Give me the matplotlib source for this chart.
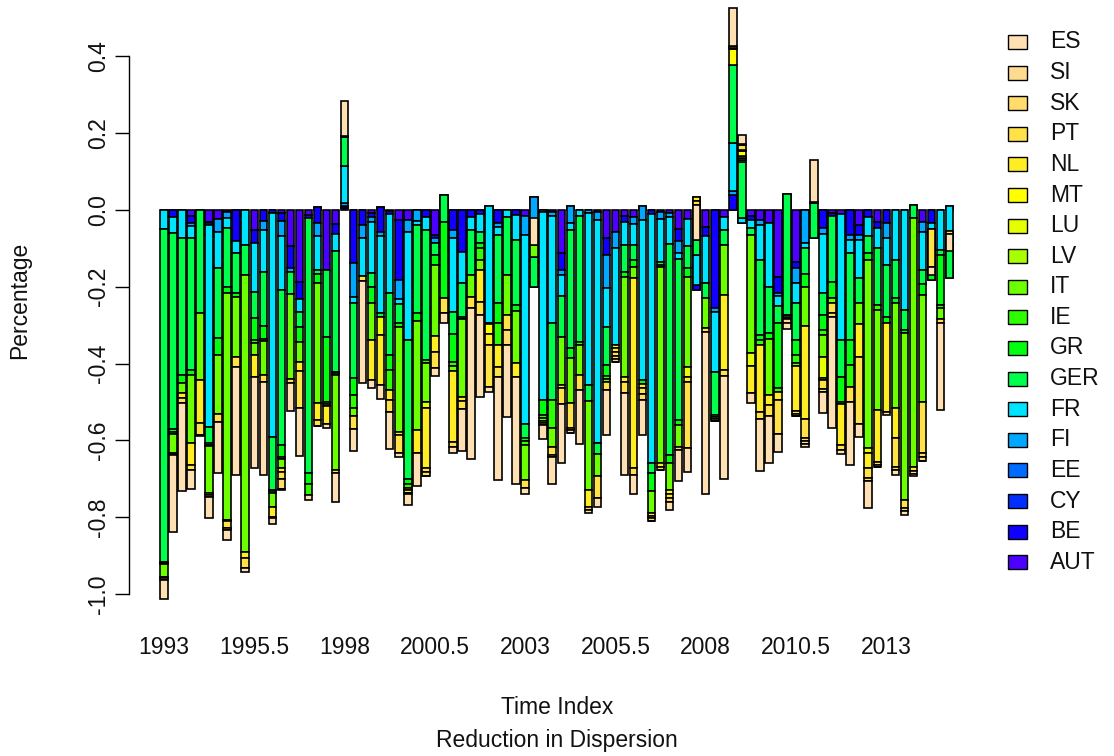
import colorsys
import numpy as np
import matplotlib
matplotlib.use("Agg")
import matplotlib.pyplot as plt
import matplotlib.transforms as mtransforms
from matplotlib.patches import Rectangle

plt.rcParams['font.family'] = ['Liberation Sans', 'DejaVu Sans']

# Stacking order (first series sits next to zero)
countries = ["AUT", "BE", "CY", "EE", "FI", "FR", "GER", "GR", "IE", "IT",
             "LV", "LU", "MT", "NL", "PT", "SK", "SI", "ES"]

tick_labels = ["1993", "1995.5", "1998", "2000.5", "2003", "2005.5",
               "2008", "2010.5", "2013"]

# Quarterly contributions, 1993Q1 .. 2014Q4 (88 quarters)
AUT = [0, 0, 0, -0.016, 0, -0.03, -0.024, -0.005, 0, 0,
       -0.052, 0, 0, -0.007, -0.094, -0.187, -0.013, 0.007, -0.156, -0.036,
       0.006, 0, 0, -0.009, 0.007, -0.003, -0.026, -0.026, 0, 0,
       -0.065, 0, 0, 0, 0, 0, 0, 0, 0, 0,
       -0.016, 0, 0, -0.005, -0.111, 0, 0, 0, -0.004, -0.074,
       -0.056, -0.016, -0.017, 0, 0, -0.006, -0.007, -0.05, -0.024, -0.208,
       -0.043, 0, -0.017, 0, 0, -0.016, -0.026, -0.035, -0.174, 0,
       -0.135, 0, 0, 0, -0.008, -0.01, 0, -0.039, 0, -0.03,
       0, 0, 0, 0, -0.03, 0, 0, 0.01]
BE = [0, -0.017, 0, -0.019, 0, -0.005, 0, 0, -0.082, 0,
      -0.035, -0.028, -0.008, -0.021, -0.058, -0.046, -0.007, -0.042, 0, -0.027,
      0.005, -0.139, -0.039, -0.008, -0.063, -0.008, -0.156, 0, 0, -0.019,
      -0.008, 0, -0.052, -0.109, -0.019, -0.01, 0, -0.033, 0, -0.013,
      0, 0, 0, 0, -0.045, 0, 0, 0, 0, -0.043,
      0, -0.015, 0, 0, -0.01, 0, 0, -0.032, 0, 0.013,
      -0.025, -0.256, 0, 0.039, 0, -0.009, 0, 0, -0.043, 0,
      -0.017, 0, 0, -0.048, -0.008, 0, -0.065, -0.026, -0.018, -0.018,
      -0.035, 0, 0, 0, 0, -0.035, 0, 0]
CY = [0.0] * 88
EE = [0, 0, 0, 0, 0, 0, 0, 0, 0, 0,
      0, 0, 0, 0, 0, 0, 0, 0, 0, 0,
      0, 0, 0, 0, 0, 0, 0, 0, 0, 0,
      0, 0, 0, 0, 0, 0, 0, 0, 0, 0,
      0, 0.035, 0, 0, 0, 0.01, 0, 0, 0, 0,
      0, 0, 0, 0.01, 0, 0, 0, 0, 0, 0,
      0, 0, 0, 0, 0, 0, 0, 0, 0, 0,
      0, 0, 0, 0, 0, 0, 0, 0, 0, 0,
      0, 0, 0, 0, 0, 0, 0, 0]
FI = [0, 0, 0, -0.007, 0, -0.005, -0.032, -0.015, 0, 0,
      0, -0.024, 0, -0.041, -0.01, 0, 0, -0.034, 0, 0,
      0.006, -0.087, -0.035, -0.013, -0.012, 0, -0.051, -0.03, -0.028, 0,
      -0.014, 0, -0.022, 0, 0, 0, 0.01, -0.01, 0, 0,
      -0.049, -0.236, -0.004, -0.011, -0.012, -0.045, 0, -0.009, -0.022, -0.087,
      -0.044, 0, -0.02, -0.035, 0, -0.018, -0.012, -0.031, 0, 0,
      0, -0.01, 0, 0.011, -0.035, 0, -0.014, 0, -0.008, 0,
      -0.037, -0.085, 0, -0.015, 0, 0, -0.012, -0.012, 0, 0,
      -0.039, 0, 0, 0, -0.026, 0, 0, 0]
FR = [-0.049, -0.044, -0.074, -0.032, 0, -0.524, -0.096, -0.028, -0.031, -0.091,
      -0.126, -0.109, -0.582, -0.139, 0, -0.032, 0, -0.087, 0, -0.043,
      0.098, -0.015, -0.098, -0.135, -0.2, -0.204, -0.013, -0.283, -0.011, -0.033,
      0, 0.039, -0.191, -0.082, -0.033, -0.046, -0.305, -0.022, -0.019, -0.065,
      -0.491, 0, -0.491, -0.277, -0.056, -0.017, -0.016, -0.447, -0.582, -0.1,
      -0.252, -0.06, -0.054, -0.418, -0.65, -0.111, -0.07, -0.015, -0.07, 0.078,
      -0.123, -0.155, -0.035, 0.124, 0.013, -0.023, -0.09, -0.165, -0.025, 0.042,
      -0.054, -0.015, -0.074, -0.154, 0, -0.329, -0.036, -0.101, -0.05, -0.052,
      -0.069, -0.13, -0.26, 0.013, -0.1, -0.147, -0.104, -0.187]
GER = [-0.868, -0.51, -0.356, -0.343, -0.268, -0.044, -0.182, -0.152, -0.104, -0.078,
       -0.069, -0.141, -0.139, -0.404, -0.057, -0.039, -0.666, -0.01, -0.174, -0.315,
       0.076, -0.197, 0, -0.035, -0.01, -0.163, -0.049, -0.362, -0.228, -0.339,
       -0.03, -0.069, -0.058, -0.087, -0.117, -0.031, 0, -0.176, -0.15, -0.169,
       -0.039, 0.078, 0, -0.202, -0.108, -0.308, -0.329, -0.041, -0.027, -0.1,
       0, -0.07, -0.039, 0, -0.026, -0.008, -0.549, -0.419, -0.058, 0.039,
       -0.039, -0.113, -0.039, 0.204, 0.148, -0.016, -0.196, -0.121, -0.043, -0.315,
       -0.096, -0.067, 0.091, -0.056, -0.171, -0.095, -0.226, -0.063, -0.045, -0.147,
       -0.135, -0.1, -0.053, -0.035, -0.037, 0, -0.013, 0.123]
GR = [-0.003, -0.006, -0.02, -0.013, 0, -0.004, -0.044, -0.015, -0.009, 0,
      -0.057, -0.035, -0.004, -0.03, 0, -0.039, -0.028, -0.023, -0.169, -0.004,
      0.001, -0.044, 0, -0.043, 0, -0.039, -0.01, -0.012, -0.021, 0,
      -0.026, -0.2, -0.072, -0.006, 0, -0.013, 0, -0.054, 0, -0.015,
      -0.006, 0, -0.039, 0, 0, -0.026, 0, 0, 0, -0.028,
      0, -0.013, -0.019, -0.01, -0.047, -0.005, -0.02, -0.012, -0.022, 0,
      0, -0.006, 0, 0, 0.004, 0, -0.013, -0.014, -0.171, 0,
      -0.039, -0.034, 0.002, -0.04, -0.043, -0.065, -0.065, 0, -0.017, 0,
      -0.015, -0.013, -0.007, 0, -0.028, 0.132, -0.13, 0]
IE = [-0.002, -0.006, 0, 0, 0, -0.003, 0, 0, 0, 0,
      -0.008, -0.005, -0.004, -0.006, 0, 0, -0.028, 0, -0.006, -0.004,
      0.001, -0.034, 0, 0, 0, -0.052, 0, -0.012, 0, -0.007,
      0, 0, -0.012, 0, 0, -0.03, 0, -0.057, 0, 0,
      -0.01, 0, -0.008, -0.074, 0, 0, -0.006, 0, 0, -0.008,
      0, 0, 0, 0, 0, 0, 0, 0, 0, 0,
      0, -0.005, 0, 0, 0.006, 0, -0.013, 0, -0.01, 0,
      -0.021, 0, 0.003, -0.012, 0, -0.005, -0.056, 0, 0, -0.013,
      0, 0, 0, 0, 0, 0, -0.009, 0]
IT = [-0.033, -0.051, -0.027, -0.178, -0.174, -0.123, -0.152, -0.592, -0.156, -0.721,
      -0.031, -0.088, -0.036, -0.025, -0.222, -0.052, 0, -0.314, -0.006, -0.248,
      0, -0.02, 0, -0.096, 0, 0, -0.272, 0, -0.285, -0.102,
      -0.185, 0, -0.013, -0.202, -0.057, -0.026, -0.003, 0, -0.104, -0.137,
      -0.092, 0.032, -0.008, -0.047, -0.124, -0.117, -0.079, -0.232, -0.059, -0.007,
      0, -0.262, -0.029, 0, -0.057, -0.512, -0.071, -0.057, -0.234, 0,
      -0.078, 0, -0.13, 0, 0, -0.308, 0, -0.147, 0, -0.004,
      -0.006, -0.101, 0, -0.057, -0.012, 0, 0, -0.056, -0.49, -0.261,
      0, -0.273, -0.435, -0.646, -0.278, 0, -0.029, 0]
LV = [0.0] * 88
LU = [0, 0, 0, 0, 0, 0, 0, 0, 0, 0,
      0, 0, 0, 0, 0, 0, 0, 0, 0, 0,
      0, 0, 0, 0, -0.048, 0, 0, 0, 0, -0.016,
      0, 0, 0, 0, 0, 0, 0, 0, 0, 0,
      0, 0, 0, 0, 0, 0, 0, 0, 0, 0,
      0, 0, 0, 0, 0, 0, 0, 0, -0.028, 0,
      0, 0, 0, 0, 0.004, -0.034, 0, 0, 0, 0,
      0, 0, 0, -0.056, 0, 0, 0, 0, -0.012, 0,
      0, 0, 0, 0, 0, 0, 0, 0]
MT = [0, 0, 0, 0, 0, 0, 0, 0, 0, 0,
      0, 0, 0, 0, 0, 0, 0, 0, 0, 0,
      0.001, 0, 0, 0, 0, 0, 0, 0, 0, 0,
      0, 0, 0, 0, 0, 0, -0.025, 0, 0, 0,
      0, 0, 0, 0, 0, 0, 0, 0, 0, 0,
      -0.008, 0, 0, 0, 0, 0, -0.01, 0, 0, 0.113,
      0, 0, 0, 0.04, 0.013, 0, 0, 0, 0, 0,
      0, 0, 0, -0.006, 0, 0, 0, 0, 0, 0,
      0, 0, 0, 0, 0, 0, 0, 0]
NL = [-0.004, -0.002, -0.012, -0.055, -0.113, -0.005, 0, -0.004, 0, -0.017,
      -0.056, 0, -0.026, -0.01, 0, -0.025, 0, -0.044, -0.045, 0,
      0, 0, 0, -0.104, -0.13, -0.026, -0.01, -0.005, -0.059, -0.157,
      -0.041, 0, -0.183, -0.012, 0, -0.083, -0.029, -0.056, 0, -0.035,
      0, 0, -0.005, 0, -0.008, 0, 0, -0.044, 0, 0,
      -0.01, -0.012, -0.495, -0.01, -0.006, -0.008, -0.01, 0, -0.012, -0.011,
      0, -0.005, -0.196, 0.004, 0.004, -0.071, -0.173, -0.025, -0.02, -0.004,
      -0.119, -0.241, 0, 0, 0, -0.108, 0, -0.085, -0.041, -0.134,
      -0.232, -0.079, 0, 0, 0, 0, 0, 0]
PT = [-0.004, -0.002, -0.014, -0.015, -0.03, -0.004, -0.021, -0.018, -0.026, -0.026,
      0, -0.017, -0.003, -0.017, -0.01, -0.096, 0, -0.015, 0, -0.009,
      0, -0.035, -0.012, 0, 0, -0.03, -0.045, -0.006, 0, -0.01,
      -0.043, -0.039, -0.013, -0.021, -0.03, -0.034, -0.108, -0.026, -0.04, 0,
      -0.022, 0, -0.005, -0.022, -0.041, -0.066, -0.039, -0.007, -0.057, -0.022,
      -0.01, -0.029, -0.017, -0.016, -0.007, -0.009, -0.011, -0.01, -0.172, -0.01,
      -0.011, 0, -0.015, 0.004, 0.012, 0, -0.02, -0.03, -0.09, -0.004,
      -0.006, -0.052, 0, -0.023, -0.027, -0.012, -0.039, -0.174, -0.026, -0.008,
      0, -0.073, -0.022, -0.012, -0.135, -0.098, -0.008, -0.009]
SK = [0, 0, 0, 0, 0, 0, 0, 0, 0, 0,
      0, 0, 0, -0.027, 0, 0, 0, 0, 0, 0,
      0, 0, 0, 0, 0, 0, 0, 0, 0, -0.011,
      0, 0, 0, 0, 0, 0, 0, 0, -0.039, 0,
      0, 0, 0, -0.006, 0, -0.005, 0, 0, 0, 0,
      -0.008, 0, 0, -0.016, -0.007, 0, 0, 0, 0, 0,
      0, 0, 0, 0, 0.004, 0, 0, 0, 0, 0,
      -0.006, -0.007, 0, -0.006, -0.01, 0, 0, 0, -0.008, -0.007,
      0, -0.008, -0.007, 0, -0.01, 0, 0, 0]
SI = [0, 0, 0, 0, 0, 0, 0, -0.004, 0, 0,
      0, 0, 0, 0, 0, 0, 0, 0, 0, 0,
      0, 0, 0, 0, 0, 0, 0, -0.004, 0, 0,
      0, 0, 0, 0, 0, 0, 0, 0, 0, 0,
      0, 0, 0, 0, 0, -0.006, 0, 0, 0, 0,
      -0.007, 0, 0, 0, 0, 0, 0, 0, 0, 0,
      0, 0, 0, 0, 0, 0, 0, 0, 0, -0.01,
      0, -0.007, 0, 0, 0, 0, 0, 0, 0, 0,
      0, 0, 0, -0.007, -0.009, 0, 0, 0]
ES = [-0.051, -0.201, -0.228, -0.048, -0.003, -0.056, -0.135, -0.026, -0.282, -0.011,
      -0.239, -0.243, -0.017, -0.002, -0.072, -0.124, -0.013, 0, -0.013, -0.074,
      0.09, -0.056, -0.267, -0.021, -0.037, -0.098, -0.01, -0.028, -0.087, 0,
      -0.02, -0.026, -0.016, -0.108, -0.393, -0.213, -0.013, -0.269, -0.188, -0.28,
      -0.015, 0.069, -0.037, -0.07, -0.155, 0, -0.14, -0.01, -0.022, -0.117,
      0, -0.213, -0.05, -0.091, 0, 0, -0.021, -0.081, -0.061, -0.092,
      -0.421, 0, -0.268, 0.1, 0.022, -0.026, -0.135, -0.123, -0.045, -0.016,
      0, -0.007, 0.108, -0.055, -0.29, -0.011, -0.165, -0.034, -0.07, 0,
      -0.009, -0.014, -0.01, -0.007, 0, -0.021, -0.228, -0.043]

series = [AUT, BE, CY, EE, FI, FR, GER, GR, IE, IT,
          LV, LU, MT, NL, PT, SK, SI, ES]


def topo_colors(n):
    """Blue -> green -> yellow -> tan ramp (HSV based)."""
    j = n // 3
    k = n // 3
    i = n - j - k
    cols = [colorsys.hsv_to_rgb(h, 1.0, 1.0) for h in np.linspace(43 / 60, 31 / 60, i)]
    cols += [colorsys.hsv_to_rgb(h, 1.0, 1.0) for h in np.linspace(23 / 60, 11 / 60, j)]
    cols += [colorsys.hsv_to_rgb(h, s, 1.0)
             for h, s in zip(np.linspace(10 / 60, 6 / 60, k), np.linspace(1.0, 0.3, k))]
    return cols


colors = topo_colors(len(countries))
TXT = "#111111"
FS = 16.5

W, H = 1114, 756
fig = plt.figure(figsize=(W / 100, H / 100), dpi=100)

# plot region in pixels
left_px, right_px = 128.5, 985.0
ylo, yhi = -1.08, 0.545
zero_px, px_per_unit = 210.0, 384.0
top_px = zero_px - yhi * px_per_unit
bot_px = zero_px - ylo * px_per_unit
ax = fig.add_axes([left_px / W, 1 - bot_px / H,
                   (right_px - left_px) / W, (bot_px - top_px) / H])

n = len(AUT)
x = np.arange(n)
width = 1 / 1.2
cum = np.zeros(n)
for vals, col in zip(series, colors):
    v = np.asarray(vals, dtype=float)
    ax.bar(x, v, bottom=cum, width=width, color=col, edgecolor="black",
           linewidth=1.2, clip_on=False)
    cum = cum + v

span = n - 1 + width
ax.set_xlim(-width / 2 - 0.04 * span, n - 1 + width / 2 + 0.04 * span)
ax.set_ylim(ylo, yhi)

for s in ["top", "right", "bottom"]:
    ax.spines[s].set_visible(False)
ax.spines["left"].set_bounds(-1.0, 0.4)
ax.spines["left"].set_linewidth(1.0)
yt = np.round(np.arange(-1.0, 0.41, 0.2), 1)
ax.set_yticks(yt)
ax.set_yticklabels([f"{t + 0.0:.1f}" if abs(t) > 1e-9 else "0.0" for t in yt],
                   rotation=90, va="center", fontsize=FS, color=TXT)
ax.tick_params(axis="y", length=10, width=1.0, pad=3)
ax.set_xticks([])

blend = mtransforms.blended_transform_factory(ax.transData, fig.transFigure)
for k, lab in enumerate(tick_labels):
    ax.text(k * 10, 1 - 648 / H, lab, transform=blend, ha="center", va="center",
            fontsize=FS, color=TXT)

xc = (left_px + right_px) / 2 / W
fig.text(xc, 1 - 707 / H, "Time Index", ha="center", va="center",
         fontsize=FS, color=TXT)
fig.text(xc, 1 - 740 / H, "Reduction in Dispersion", ha="center", va="center",
         fontsize=FS, color=TXT)
fig.text(20 / W, 1 - 300 / H, "Percentage", rotation=90, ha="center", va="center",
         fontsize=FS, color=TXT)

# legend, top entry is the last stacked series
for r, (name, col) in enumerate(zip(countries[::-1], colors[::-1])):
    yc = 42 + r * 30.6
    fig.add_artist(Rectangle((1008 / W, 1 - (yc + 7) / H), 19 / W, 14 / H,
                             transform=fig.transFigure, facecolor=col,
                             edgecolor="black", linewidth=1.0))
    fig.text(1050 / W, 1 - yc / H, name, ha="left", va="center",
             fontsize=FS, color=TXT)

fig.savefig("out.png", dpi=100)
